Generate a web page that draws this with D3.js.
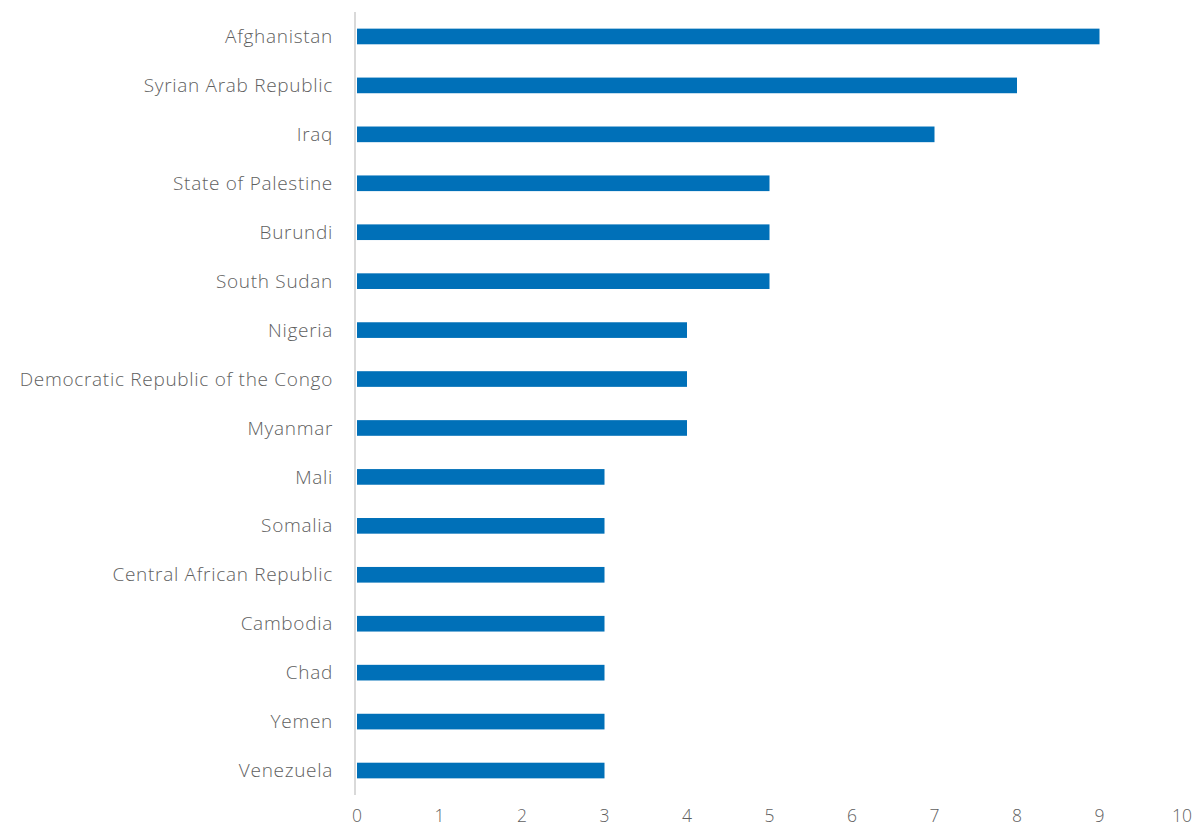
<!DOCTYPE html>
<html>
<head>
<meta charset="utf-8">
<script src="https://cdn.jsdelivr.net/npm/d3@7"></script>
<style>
  body { margin: 0; background: #fff; }
  svg text { font-family: "Open Sans", "Noto Sans", sans-serif; font-weight: 300; fill: #5f5f5f; }
</style>
</head>
<body>
<svg id="chart" width="1192" height="827"></svg>
<script>
const countries = [
  "Afghanistan", "Syrian Arab Republic", "Iraq", "State of Palestine", "Burundi",
  "South Sudan", "Nigeria", "Democratic Republic of the Congo", "Myanmar", "Mali",
  "Somalia", "Central African Republic", "Cambodia", "Chad", "Yemen", "Venezuela"
];
const values = [9, 8, 7, 5, 5, 5, 4, 4, 4, 3, 3, 3, 3, 3, 3, 3];
const xTicks = [0, 1, 2, 3, 4, 5, 6, 7, 8, 9, 10];

const svg = d3.select("#chart");
const margin = { top: 12, left: 356, right: 10, bottom: 32 };
const width = 1192, height = 827;

const x = d3.scaleLinear().domain([0, 10]).range([margin.left + 1, 1182]);
const y = d3.scaleBand()
  .domain(countries)
  .range([margin.top, height - margin.bottom])
  .paddingInner(0.68)
  .paddingOuter(0.34);

// bars
svg.append("g")
  .selectAll("rect")
  .data(countries)
  .join("rect")
  .attr("x", x(0))
  .attr("y", d => y(d))
  .attr("width", (d, i) => x(values[i]) - x(0))
  .attr("height", y.bandwidth())
  .attr("fill", "#0070b8");

// category labels
svg.append("g")
  .selectAll("text")
  .data(countries)
  .join("text")
  .attr("x", 333)
  .attr("y", d => y(d) + y.bandwidth() / 2)
  .attr("dy", "0.35em")
  .attr("text-anchor", "end")
  .style("font-size", "19px")
  .style("letter-spacing", "0.7px")
  .text(d => d);

// vertical axis line
svg.append("line")
  .attr("x1", margin.left - 1).attr("x2", margin.left - 1)
  .attr("y1", margin.top).attr("y2", height - margin.bottom)
  .attr("stroke", "#d9d9d9")
  .attr("stroke-width", 2);

// x tick labels (kept inside the bottom edge)
svg.append("g")
  .selectAll("text")
  .data(xTicks)
  .join("text")
  .attr("x", d => x(d))
  .attr("y", 822)
  .attr("text-anchor", "middle")
  .style("font-size", "17.5px")
  .text(d => d);
</script>
</body>
</html>
